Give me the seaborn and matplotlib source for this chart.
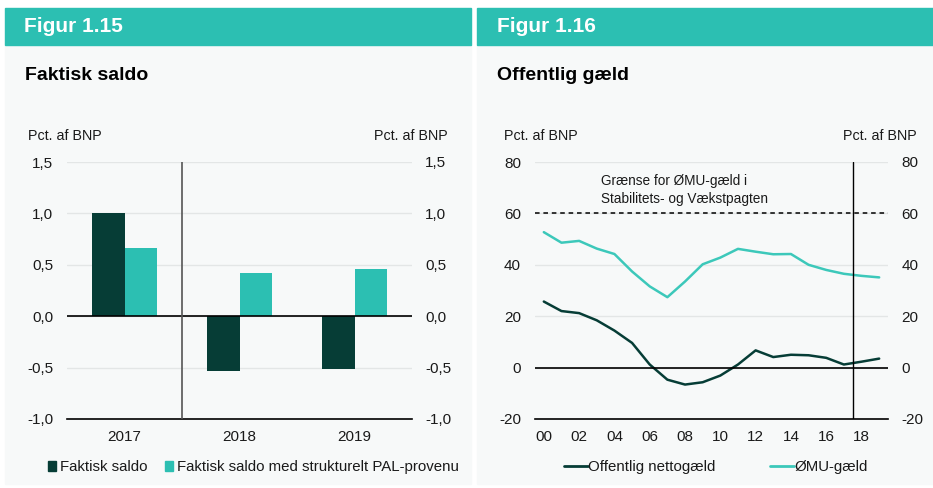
import numpy as np
import pandas as pd
import matplotlib
matplotlib.use('Agg')
import matplotlib.pyplot as plt
import seaborn as sns
from matplotlib.patches import Rectangle

sns.set_theme(style="white")
plt.rcParams['font.family'] = ['Liberation Sans', 'DejaVu Sans']

# Figur 1.15 data
bar_years = ['2017', '2018', '2019']
faktisk_saldo = [1.0, -0.53, -0.51]
saldo_med_pal = [0.66, 0.42, 0.46]
bar_ticks = [-1.0, -0.5, 0.0, 0.5, 1.0, 1.5]
bar_ticklabels = ['-1,0', '-0,5', '0,0', '0,5', '1,0', '1,5']

# Figur 1.16 data
years = list(range(2000, 2020))
nettogaeld = [25.7, 22.0, 21.2, 18.4, 14.4, 9.6, 1.2, -4.7, -6.6, -5.7,
              -3.1, 1.2, 6.7, 4.1, 5.0, 4.8, 3.8, 1.2, 2.3, 3.5]
emu_gaeld = [52.7, 48.6, 49.3, 46.3, 44.2, 37.4, 31.6, 27.4, 33.5, 40.2,
             42.8, 46.2, 45.1, 44.1, 44.2, 40.0, 38.0, 36.5, 35.7, 35.1]
debt_ticks = [-20, 0, 20, 40, 60, 80]

DARK = '#063d36'
TEAL = '#2cbfb2'
LINE_TEAL = '#3cc8ba'
BG = '#f7f9f9'
GRID = '#e3e6e6'
TXT = '#1a1a1a'

W, H = 933, 488
fig = plt.figure(figsize=(W / 100, H / 100), dpi=100)
fig.patch.set_facecolor('white')


def px_rect(x0, y0, x1, y1, color):
    fig.patches.append(Rectangle((x0 / W, 1 - y1 / H), (x1 - x0) / W, (y1 - y0) / H,
                                 transform=fig.transFigure, color=color, zorder=-10))


def px_text(x, y, s, **kw):
    fig.text(x / W, 1 - y / H, s, **kw)


def px_axes(x0, y0, x1, y1):
    return fig.add_axes([x0 / W, 1 - y1 / H, (x1 - x0) / W, (y1 - y0) / H])


# panel backgrounds and header bands
for x0, x1 in [(5, 471), (477, 933)]:
    px_rect(x0, 45, x1, 484, BG)
    px_rect(x0, 8, x1, 45, TEAL)

px_text(24, 27, 'Figur 1.15', color='white', fontsize=15, fontweight='bold', va='center')
px_text(497, 27, 'Figur 1.16', color='white', fontsize=15, fontweight='bold', va='center')
px_text(25, 75, 'Faktisk saldo', color='black', fontsize=14, fontweight='bold', va='center')
px_text(497, 75, 'Offentlig gæld', color='black', fontsize=14, fontweight='bold', va='center')
px_text(28, 136, 'Pct. af BNP', color=TXT, fontsize=10.3, va='center')
px_text(448, 136, 'Pct. af BNP', color=TXT, fontsize=10.3, va='center', ha='right')
px_text(504, 136, 'Pct. af BNP', color=TXT, fontsize=10.3, va='center')
px_text(917, 136, 'Pct. af BNP', color=TXT, fontsize=10.3, va='center', ha='right')


def style_axes(ax, ticks, labels, ylim):
    ax.set_facecolor('none')
    ax.set_ylim(*ylim)
    ax.set_yticks(ticks)
    ax.set_yticklabels(labels)
    for t in ticks[1:]:
        ax.axhline(t, color=GRID, lw=1, zorder=0)
    for s in ['top', 'right', 'left']:
        ax.spines[s].set_visible(False)
    ax.spines['bottom'].set_color('black')
    ax.spines['bottom'].set_linewidth(1.2)
    ax.tick_params(axis='y', length=0, pad=10, labelsize=11, colors=TXT)
    ax.tick_params(axis='x', labelsize=11, colors=TXT)
    ax.set_xlabel('')
    ax.set_ylabel('')
    tw = ax.twinx()
    tw.set_ylim(*ylim)
    tw.set_yticks(ticks)
    tw.set_yticklabels(labels)
    for s in tw.spines.values():
        s.set_visible(False)
    tw.tick_params(axis='y', length=0, pad=9.5, labelsize=11, colors=TXT)
    tw.grid(False)


# ---- Figur 1.15: bars ----
ax1 = px_axes(67, 162, 412, 419)
bar_df = pd.DataFrame({
    'år': bar_years * 2,
    'værdi': faktisk_saldo + saldo_med_pal,
    'serie': ['Faktisk saldo'] * 3 + ['Faktisk saldo med strukturelt PAL-provenu'] * 3,
})
sns.barplot(data=bar_df, x='år', y='værdi', hue='serie', palette=[DARK, TEAL],
            width=0.57, ax=ax1, saturation=1, legend=False, zorder=3, linewidth=0)
ax1.set_xlim(-0.5, 2.5)
style_axes(ax1, bar_ticks, bar_ticklabels, (-1.0, 1.5))
ax1.axhline(0, color='black', lw=1.2, zorder=4)
ax1.axvline(0.5, color='#555555', lw=1.2, zorder=4)
ax1.set_xticks([-0.5, 0.5, 1.5, 2.5], minor=True)
ax1.tick_params(axis='x', which='major', length=0, pad=8)
ax1.tick_params(axis='x', which='minor', length=4, width=1, color='black', direction='out')

h1 = [Rectangle((0, 0), 1, 1, color=DARK), Rectangle((0, 0), 1, 1, color=TEAL)]
fig.legend(h1, ['Faktisk saldo', 'Faktisk saldo med strukturelt PAL-provenu'],
           loc='center left', bbox_to_anchor=(34 / W, 1 - 467 / H), ncol=2, frameon=False,
           handlelength=0.55, handleheight=0.65, handletextpad=0.25, columnspacing=1.2,
           fontsize=10.8, labelcolor=TXT)

# ---- Figur 1.16: lines ----
ax2 = px_axes(535, 162, 888, 419)
line_df = pd.DataFrame({
    'år': years * 2,
    'værdi': nettogaeld + emu_gaeld,
    'serie': ['Offentlig nettogæld'] * len(years) + ['ØMU-gæld'] * len(years),
})
sns.lineplot(data=line_df, x='år', y='værdi', hue='serie', palette=[DARK, LINE_TEAL],
             lw=1.8, ax=ax2, legend=False, zorder=3)
ax2.set_xlim(years[0] - 0.5, years[-1] + 0.5)
style_axes(ax2, debt_ticks, [str(t) for t in debt_ticks], (-20, 80))
ax2.axhline(0, color='black', lw=1.2, zorder=4)
ax2.axhline(60, color='black', lw=1.1, ls=(0, (3, 2.5)), zorder=4)
ax2.axvline(2017.5, color='black', lw=1.0, zorder=4)
ax2.set_xticks(years[::2])
ax2.set_xticklabels([f'{y % 100:02d}' for y in years[::2]])
ax2.set_xticks([y - 0.5 for y in years] + [years[-1] + 0.5], minor=True)
ax2.tick_params(axis='x', which='major', length=0, pad=8)
ax2.tick_params(axis='x', which='minor', length=4, width=1, color='black', direction='out')
ax2.text(2003.25, 75.3, 'Grænse for ØMU-gæld i\nStabilitets- og Vækstpagten',
         fontsize=9.8, color=TXT, va='top', ha='left', linespacing=1.35)

h2 = [plt.Line2D([], [], color=DARK, lw=2), plt.Line2D([], [], color=LINE_TEAL, lw=2)]
fig.legend(h2, ['Offentlig nettogæld', 'ØMU-gæld'],
           loc='center left', bbox_to_anchor=(550 / W, 1 - 467 / H), ncol=2, frameon=False,
           handlelength=1.6, handletextpad=0.05, columnspacing=3.6,
           fontsize=10.8, labelcolor=TXT)

fig.savefig('out.png', dpi=100, facecolor='white')
